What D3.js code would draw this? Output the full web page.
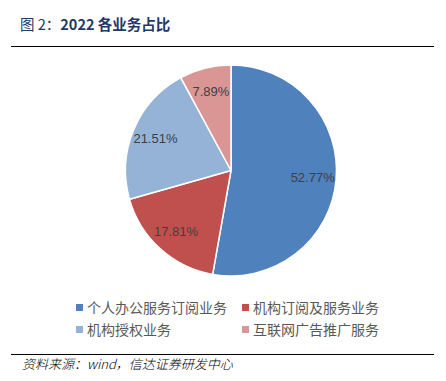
<!DOCTYPE html>
<html>
<head>
<meta charset="utf-8">
<script src="https://cdn.jsdelivr.net/npm/d3@7"></script>
<style>
  body { margin: 0; background: #fff; }
</style>
</head>
<body>
<svg class="pie-chart" width="446" height="381"></svg>
<script>
// chart data
var categories = ['个人办公服务订阅业务', '机构订阅及服务业务', '机构授权业务', '互联网广告推广服务'];
var shares = [52.77, 17.81, 21.51, 7.89];
var colors = ['#4f81bd', '#c0504d', '#95b3d7', '#d99694'];

var svg = d3.select('svg.pie-chart');

var cjk = '"Noto Sans CJK SC", "Noto Sans", sans-serif';

// title + rule
var title = svg.append('text')
  .attr('x', 20).attr('y', 30)
  .attr('fill', '#1f3864')
  .style('font-family', cjk)
  .style('font-size', '14.5px');
title.append('tspan').text('图 2：');
title.append('tspan').style('font-weight', 'bold').text('2022 各业务占比');

svg.append('line')
  .attr('x1', 11).attr('x2', 434)
  .attr('y1', 46.5).attr('y2', 46.5)
  .attr('stroke', '#000').attr('stroke-width', 1);

// pie
var cx = 231, cy = 170.5, radius = 105.5;

var pie = d3.pie().sort(null).value(function(d) { return d; });
var arc = d3.arc().innerRadius(0).outerRadius(radius);
var labelArc = d3.arc().innerRadius(82).outerRadius(82);

var pieG = svg.append('g')
  .attr('transform', 'translate(' + [cx, cy] + ')');

var slices = pie(shares);

pieG.selectAll('path')
  .data(slices)
  .enter()
  .append('path')
  .attr('d', arc)
  .attr('fill', function(d, i) { return colors[i]; })
  .attr('stroke', '#fff')
  .attr('stroke-width', 1.5);

pieG.selectAll('text')
  .data(slices)
  .enter()
  .append('text')
  .attr('transform', function(d) { return 'translate(' + labelArc.centroid(d) + ')'; })
  .attr('text-anchor', 'middle')
  .attr('dy', '0.35em')
  .attr('fill', '#404040')
  .style('font-family', '"Liberation Sans", Arial, sans-serif')
  .style('font-size', '13px')
  .text(function(d) { return d.data.toFixed(2) + '%'; });

// legend
var legendPos = [[76, 308], [242, 308], [76, 330], [242, 330]];

var legendG = svg.selectAll('g.legend')
  .data(categories)
  .enter()
  .append('g')
  .attr('class', 'legend')
  .attr('transform', function(d, i) { return 'translate(' + legendPos[i] + ')'; });

legendG.append('rect')
  .attr('x', 0).attr('y', -4)
  .attr('width', 7).attr('height', 7)
  .attr('fill', function(d, i) { return colors[i]; });

legendG.append('text')
  .attr('x', 11).attr('y', 0)
  .attr('dy', '0.35em')
  .attr('fill', '#595959')
  .style('font-family', cjk)
  .style('font-size', '14px')
  .text(function(d) { return d; });

// source footer
svg.append('line')
  .attr('x1', 11).attr('x2', 434)
  .attr('y1', 354.5).attr('y2', 354.5)
  .attr('stroke', '#000').attr('stroke-width', 1);

svg.append('text')
  .attr('x', 22).attr('y', 369)
  .attr('fill', '#000')
  .style('font-family', cjk)
  .style('font-size', '13px')
  .style('font-weight', '300')
  .style('font-style', 'italic')
  .text('资料来源：wind，信达证券研发中心');
</script>
</body>
</html>
